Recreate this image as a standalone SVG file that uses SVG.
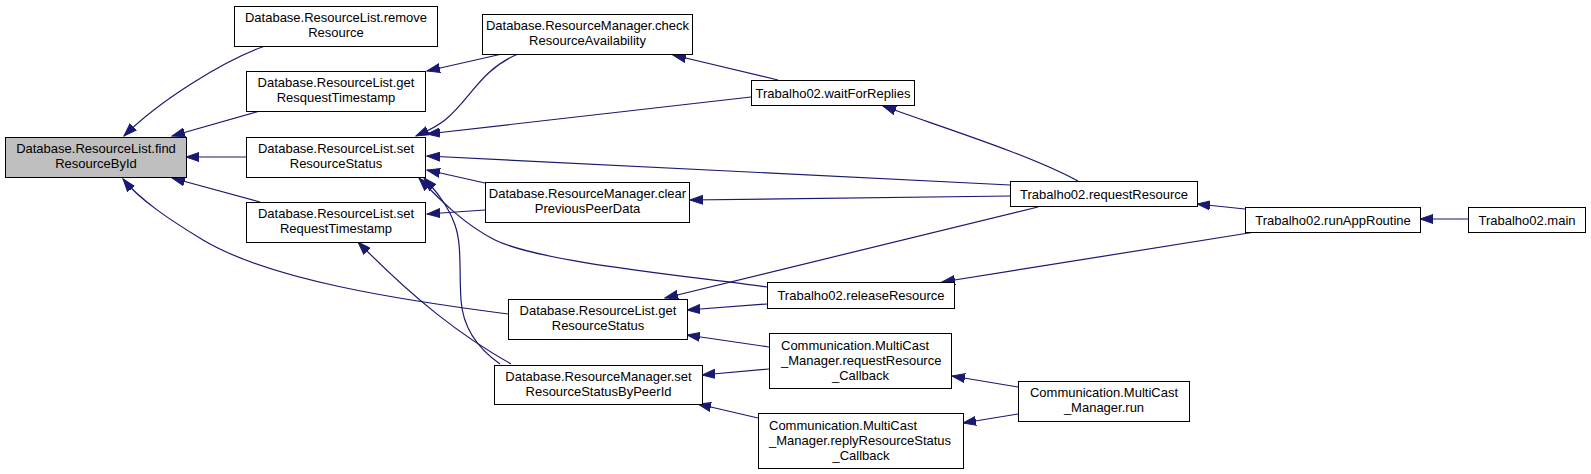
<svg xmlns="http://www.w3.org/2000/svg" width="1591" height="474" viewBox="0 0 1591 474">
<style>
.n rect{fill:#fff;stroke:#000;stroke-width:1}
.n.hl rect{fill:#bfbfbf}
.n text{font-family:"Liberation Sans",Arial,sans-serif;font-size:13px;fill:#000;text-anchor:middle}
.n text.l{text-anchor:start}
#edges path{fill:none;stroke:#191970;stroke-width:1.2;marker-end:url(#ah)}
</style>
<defs>
<marker id="ah" markerUnits="userSpaceOnUse" markerWidth="14" markerHeight="10" refX="13" refY="5" orient="auto">
<path d="M0,0.5 L13,5 L0,9.5 Z" fill="#191970" stroke="#191970" stroke-width="1"/>
</marker>
</defs>
<rect width="1591" height="474" fill="#fff"/>
<g id="edges">
<path d="M265,46 C225,60 160,100 124,136"/>
<path d="M260,111 L172,136"/>
<path d="M246,157 L186,157"/>
<path d="M260,202 L172,178"/>
<path d="M508,314 C400,300 270,280 203,240 C170,220 140,200 123,179"/>
<path d="M502,54 L427,71"/>
<path d="M518,54 C480,70 470,100 445,120 C435,128 425,132 416,136"/>
<path d="M751,97 L427,134"/>
<path d="M1010,185 L427,156"/>
<path d="M485,183 L427,170"/>
<path d="M485,210 L427,214"/>
<path d="M767,287 C680,275 540,262 495,240 C465,225 440,200 419,178"/>
<path d="M500,364 C480,350 463,330 461,300 C459,270 462,245 455,225 C448,205 435,190 424,178"/>
<path d="M511,364 C460,335 415,300 358,242"/>
<path d="M778,80 L673,55"/>
<path d="M1078,181 C1030,155 950,130 883,106"/>
<path d="M1010,196 L690,200"/>
<path d="M1038,207 L665,298"/>
<path d="M767,304 L687,310"/>
<path d="M769,347 L687,335"/>
<path d="M769,369 L702,375"/>
<path d="M758,418 L698,404"/>
<path d="M1245,209 L1197,204"/>
<path d="M1255,232 L942,282"/>
<path d="M1468,219 L1420,219"/>
<path d="M1018,387 L952,376"/>
<path d="M1018,414 L963,423"/>
</g>
<g id="findResourceById" class="n hl"><rect x="5.5" y="137.5" width="181" height="40"/><text x="96" y="152.5">Database.ResourceList.find</text><text x="96" y="167.5">ResourceById</text></g>
<g id="removeResource" class="n"><rect x="234.5" y="6.5" width="203" height="40"/><text x="336" y="21.5">Database.ResourceList.remove</text><text x="336" y="36.5">Resource</text></g>
<g id="getResquestTimestamp" class="n"><rect x="246.5" y="71.5" width="179" height="40"/><text x="336" y="86.5">Database.ResourceList.get</text><text x="336" y="101.5">ResquestTimestamp</text></g>
<g id="setResourceStatus" class="n"><rect x="246.5" y="137.5" width="179" height="40"/><text x="336" y="152.5">Database.ResourceList.set</text><text x="336" y="167.5">ResourceStatus</text></g>
<g id="setRequestTimestamp" class="n"><rect x="246.5" y="202.5" width="179" height="40"/><text x="336" y="217.5">Database.ResourceList.set</text><text x="336" y="232.5">RequestTimestamp</text></g>
<g id="checkResourceAvailability" class="n"><rect x="482.5" y="14.5" width="210" height="40"/><text x="587.5" y="29.5">Database.ResourceManager.check</text><text x="587.5" y="44.5">ResourceAvailability</text></g>
<g id="clearPreviousPeerData" class="n"><rect x="485.5" y="182.5" width="204" height="40"/><text x="587.5" y="197.5">Database.ResourceManager.clear</text><text x="587.5" y="212.5">PreviousPeerData</text></g>
<g id="getResourceStatus" class="n"><rect x="508.5" y="299.5" width="179" height="40"/><text x="598" y="314.5">Database.ResourceList.get</text><text x="598" y="329.5">ResourceStatus</text></g>
<g id="setResourceStatusByPeerId" class="n"><rect x="494.5" y="365.5" width="208" height="39"/><text x="598.5" y="380.5">Database.ResourceManager.set</text><text x="598.5" y="395.5">ResourceStatusByPeerId</text></g>
<g id="waitForReplies" class="n"><rect x="751.5" y="80.5" width="163" height="25"/><text x="833" y="97.5">Trabalho02.waitForReplies</text></g>
<g id="releaseResource" class="n"><rect x="767.5" y="282.5" width="187" height="26"/><text x="861" y="300">Trabalho02.releaseResource</text></g>
<g id="requestResource_Callback" class="n"><rect x="769.5" y="333.5" width="182" height="55"/><text class="l" x="781" y="349.5">Communication.MultiCast</text><text class="l" x="781" y="364.5">_Manager.requestResource</text><text x="860.5" y="379.5">_Callback</text></g>
<g id="replyResourceStatus_Callback" class="n"><rect x="758.5" y="413.5" width="205" height="55"/><text class="l" x="769" y="429.5">Communication.MultiCast</text><text class="l" x="769" y="444.5">_Manager.replyResourceStatus</text><text x="861" y="459.5">_Callback</text></g>
<g id="requestResource" class="n"><rect x="1010.5" y="181.5" width="187" height="25"/><text x="1104" y="198.5">Trabalho02.requestResource</text></g>
<g id="MultiCast_Manager_run" class="n"><rect x="1018.5" y="381.5" width="171" height="40"/><text x="1104" y="396.5">Communication.MultiCast</text><text x="1104" y="411.5">_Manager.run</text></g>
<g id="runAppRoutine" class="n"><rect x="1245.5" y="207.5" width="175" height="25"/><text x="1333" y="224.5">Trabalho02.runAppRoutine</text></g>
<g id="main" class="n"><rect x="1468.5" y="207.5" width="117" height="25"/><text x="1527" y="224.5">Trabalho02.main</text></g>
</svg>
